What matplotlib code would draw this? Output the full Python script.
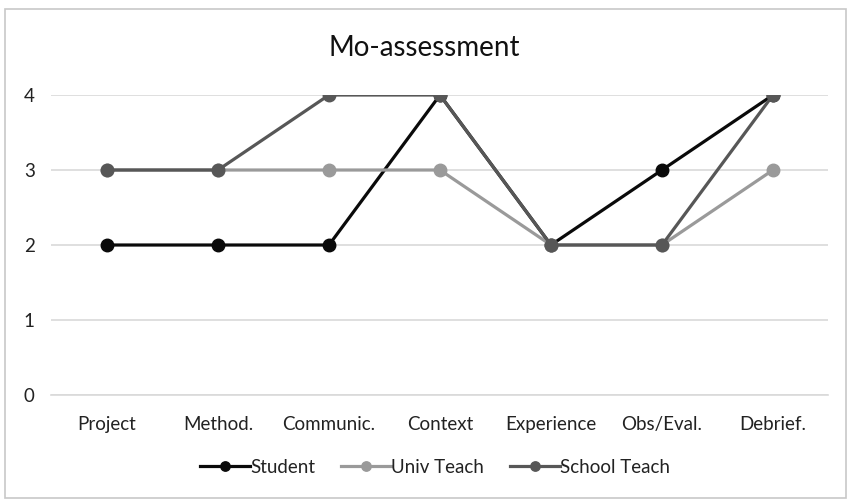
import numpy as np
import matplotlib.pyplot as plt
from matplotlib.patches import Rectangle

categories = ["Project", "Method.", "Communic.", "Context", "Experience", "Obs/Eval.", "Debrief."]
student = [2, 2, 2, 4, 2, 3, 4]
univ_teach = [3, 3, 3, 3, 2, 2, 3]
school_teach = [3, 3, 4, 4, 2, 2, 4]
y_ticks = [0, 1, 2, 3, 4]

plt.rcParams['font.family'] = ['Lato', 'DejaVu Sans']

fig = plt.figure(figsize=(8.48, 4.99), dpi=100)
ax = fig.add_axes([0.0607, 0.2084, 0.9163, 0.6012])

# chart border
fig.patches.append(Rectangle((5 / 848, 0.002), 841 / 848, 1 - 10 / 499, transform=fig.transFigure,
                             fill=False, edgecolor='#c8c8c8', linewidth=1.2))

x = np.arange(len(categories))
series = [(student, '#0a0a0a', 'Student'),
          (univ_teach, '#9a9a9a', 'Univ Teach'),
          (school_teach, '#575757', 'School Teach')]
for vals, col, lab in series:
    ax.plot(x, vals, '-o', color=col, linewidth=2.3, markersize=9, label=lab, zorder=3)

ax.set_xlim(-0.5, len(categories) - 0.5)
ax.set_ylim(0, 4)
ax.set_yticks(y_ticks)
ax.set_xticks(x)
ax.set_xticklabels(categories, fontsize=13.5, color='#222222')
ax.tick_params(axis='y', labelsize=13.5, labelcolor='#222222', length=0, pad=12)
ax.tick_params(axis='x', length=0, pad=15)
ax.grid(axis='y', color='#d9d9d9', linewidth=1.2, zorder=0)
ax.set_axisbelow(True)
for s in ax.spines.values():
    s.set_visible(False)
ax.spines['bottom'].set_visible(True)
ax.spines['bottom'].set_color('#d9d9d9')
ax.spines['bottom'].set_linewidth(1.2)

fig.text(0.5, 0.903, "Mo-assessment", ha='center', va='center', fontsize=20, color='#111111')

leg = fig.legend(loc='center', bbox_to_anchor=(0.513, 0.064), ncol=3, frameon=False,
                 fontsize=13.5, handlelength=2.65, handletextpad=0.0, columnspacing=1.4,
                 markerscale=0.75)
for t in leg.get_texts():
    t.set_color('#222222')

plt.savefig('out.png', dpi=100)
